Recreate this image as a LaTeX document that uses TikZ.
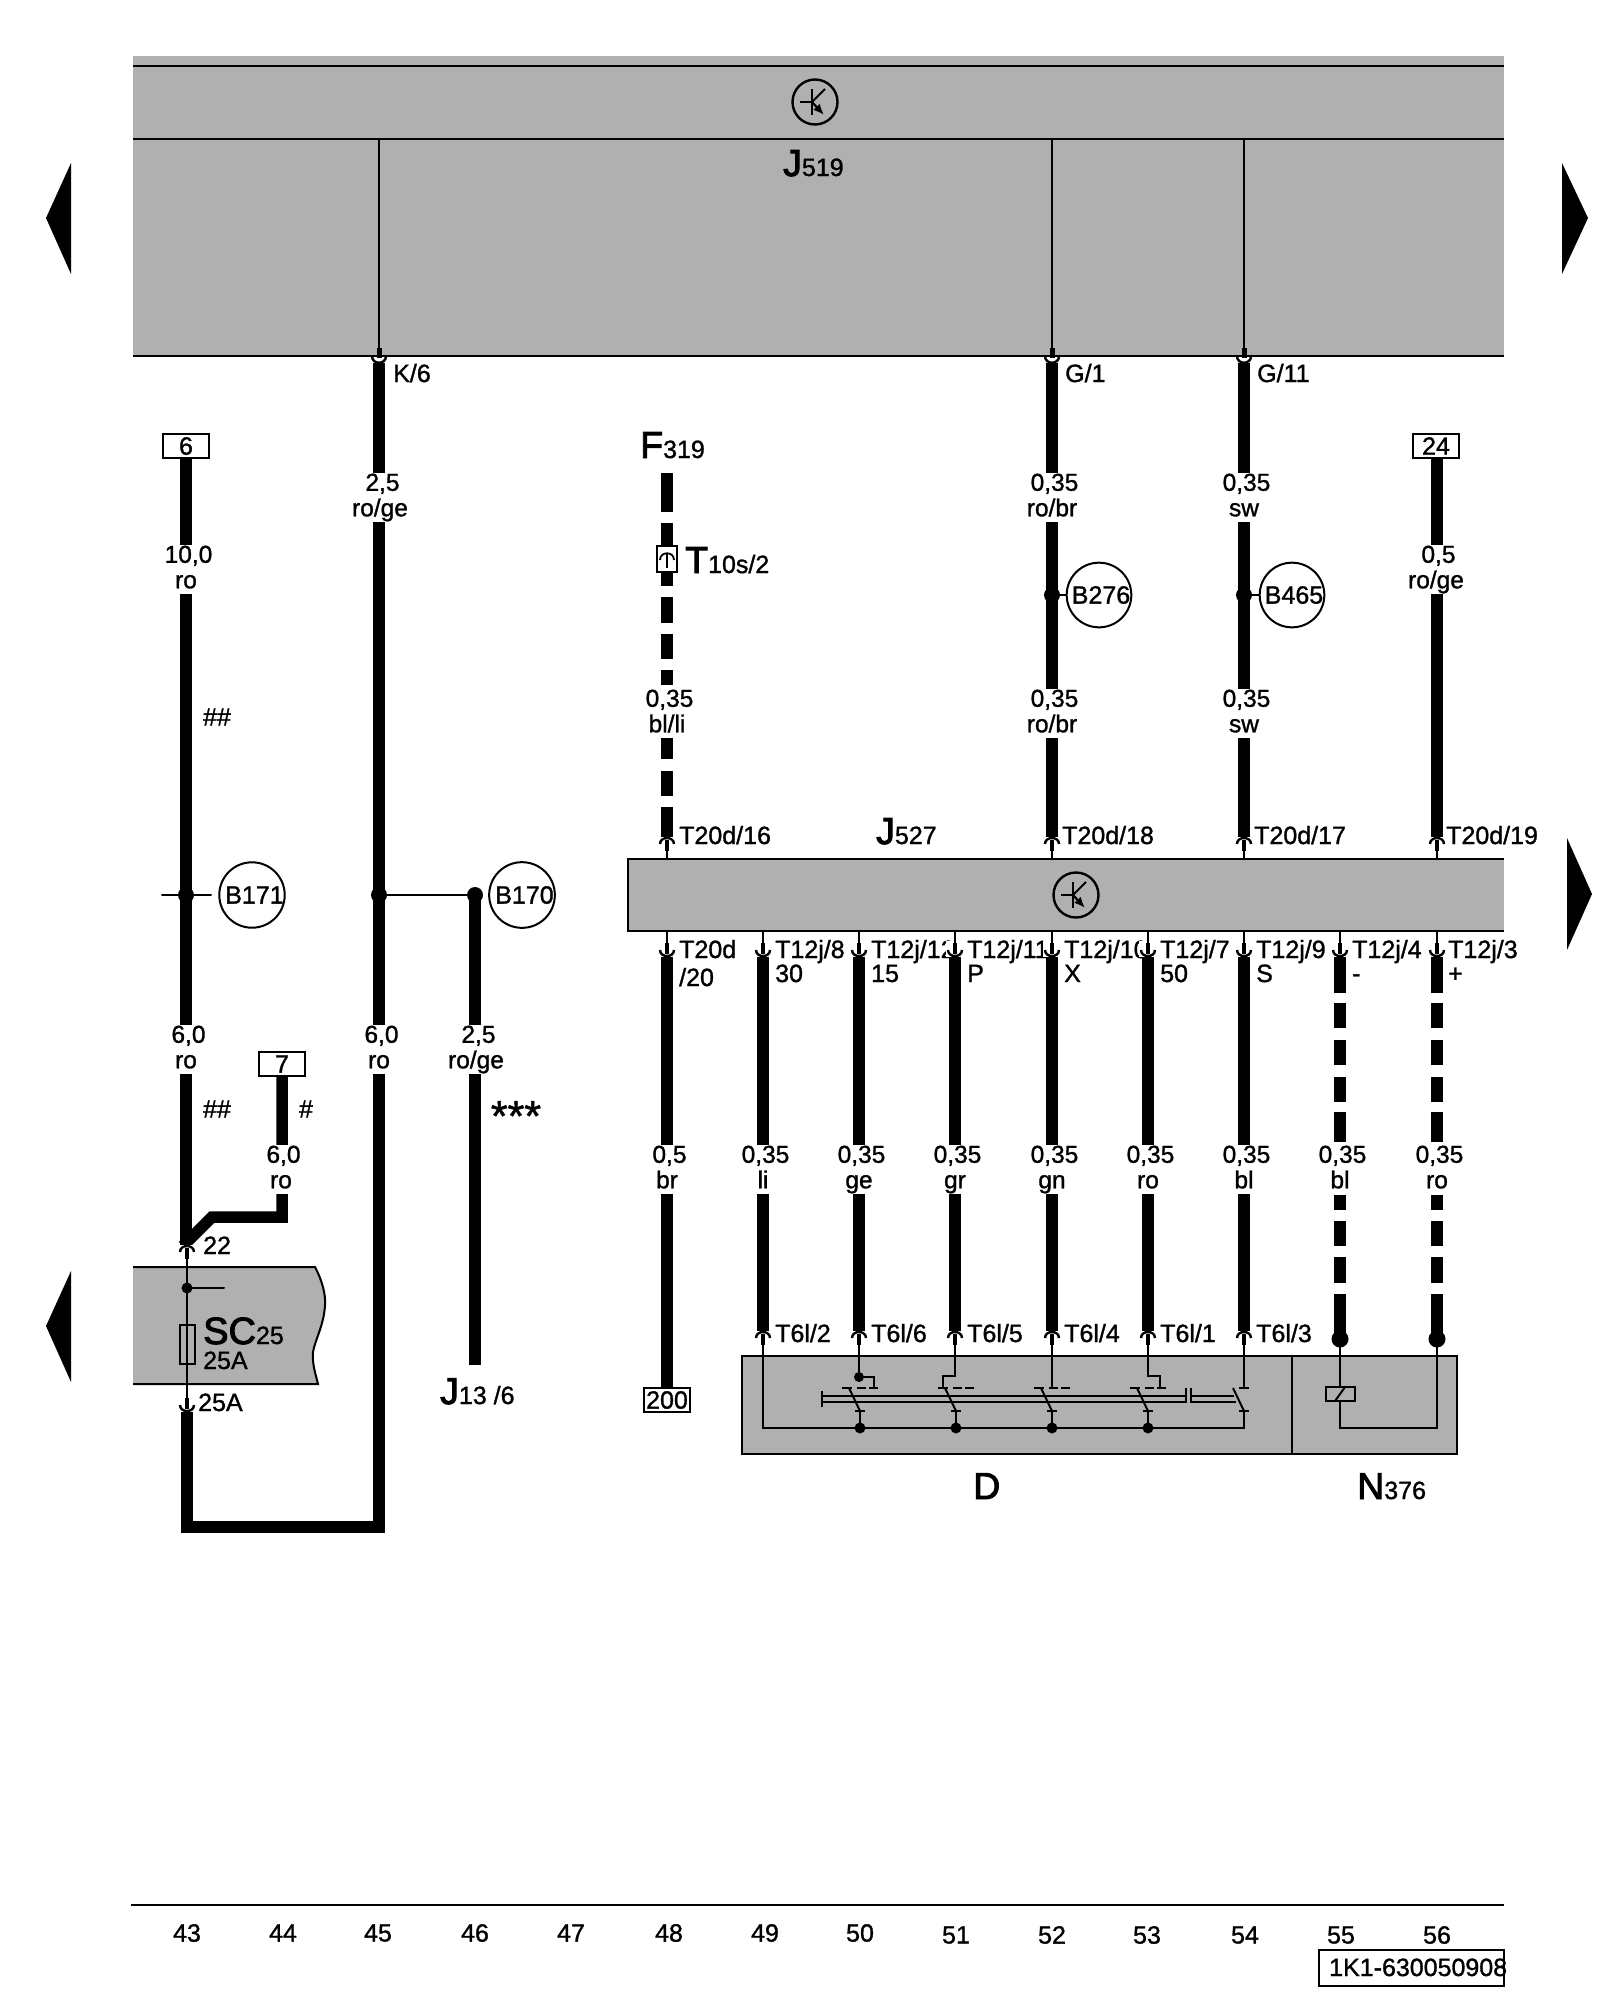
\documentclass[tikz,border=0pt]{standalone}
\usetikzlibrary{arrows.meta}
\usepackage{fontspec}
\setmainfont{Liberation Sans}[FakeBold=1.2]
\newfontfamily\bigfnt{Liberation Sans}[FakeBold=2.5]
\definecolor{boxgray}{HTML}{B0B0B0}
\newcommand\BL[2]{{\bigfnt\fontsize{37.5}{37}\selectfont #1}{\fontsize{25}{24}\selectfont #2}}
\tikzset{
 thin wire/.style={line width=2pt,line cap=round},
 wire/.style={line width=11.5pt,line cap=butt},
 txt/.style={anchor=base west,inner sep=0pt,font=\fontsize{25}{26}\selectfont},
 wl/.style={align=center,fill=white,inner xsep=1pt,inner ysep=1pt,font=\fontsize{24.5}{25.5}\selectfont},
 ref/.style={draw,line width=2pt,fill=white,minimum width=46pt,minimum height=24pt,inner sep=0pt,font=\fontsize{25}{25}\selectfont},
 circ/.style={circle,draw,line width=2pt,minimum size=61pt,inner sep=0pt,font=\fontsize{25}{25}\selectfont},
 panel/.style={fill=boxgray,draw=none},
 ln/.style={line width=2pt},
 dotn/.style={circle,fill=black,inner sep=0pt,minimum size=16pt},
 smalldot/.style={circle,fill=black,inner sep=0pt,minimum size=11pt},
}
\newcommand\pinD[2]{% wire from above, stem below
 \fill[white] (#1-9,#2-4) rectangle (#1+9,#2+9);
 \draw[line width=2.4pt] (#1-7,#2+3) .. controls (#1-7,#2-5) and (#1+7,#2-5) .. (#1+7,#2+3);
 \draw[line width=4.5pt] (#1,#2-1) -- (#1,#2+10);}
\newcommand\pinU[2]{% wire from below, stem above
 \fill[white] (#1-9,#2-12) rectangle (#1+9,#2+4);
 \draw[line width=2.4pt] (#1-7,#2-3) .. controls (#1-7,#2+5) and (#1+7,#2+5) .. (#1+7,#2-3);
 \draw[line width=4.5pt] (#1,#2+1) -- (#1,#2-10);
 \draw[thin wire] (#1,#2-22) -- (#1,#2);}
\newcommand\pinT[1]{% pin just under the J519 panel
 \fill[white] (#1-8,358) rectangle (#1+8,363);
 \draw[line width=2.4pt] (#1-7,356) .. controls (#1-7,365) and (#1+7,365) .. (#1+7,356);
 \draw[line width=5pt] (#1,348) -- (#1,358);}
\newcommand\trans[3]{%
 \node[circle,draw,line width=2.4pt,minimum size=45pt,inner sep=0pt] (#1) at (#2,#3) {};
 \draw[line width=2pt] (#2-15,#3) -- (#2-3,#3);
 \draw[line width=2pt] (#2-3,#3-13) -- (#2-3,#3+13);
 \draw[line width=2pt] (#2-3,#3) -- (#2+10,#3-13);
 \draw[line width=2.2pt,-{Latex[length=11pt,width=9pt]}] (#2-3,#3) -- (#2+9,#3+13);}
\newcommand\sw[1]{% switch contact column at wire x
 \draw[ln] (#1-18,1388) -- (#1-8,1388) (#1-3,1388) -- (#1+6,1388) (#1+9,1388) -- (#1+18,1388);
 \draw[ln] (#1-11,1388) -- (#1,1411);
 \draw[ln] (#1-5,1411) -- (#1+5,1411);
 \draw[ln] (#1,1411) -- (#1,1428);
 \node[smalldot] at (#1,1428) {};}
\newcommand\wirelab[5]{\node[wl] (#1) at (#2,#3+2.5) {\hspace{5pt}\vphantom{Tg}#4\\\vphantom{Tg}#5};}
\begin{document}
\begin{tikzpicture}[x=1pt,y=-1pt]
\useasboundingbox (0,0) rectangle (1600,2000);
\fill[white] (0,0) rectangle (1600,2000);
% page arrows
\fill (71,163) -- (71,274) -- (46,218) -- cycle;
\fill (1562,163) -- (1562,274) -- (1588,218) -- cycle;
\fill (1567,838) -- (1567,950) -- (1592,894) -- cycle;
\fill (71,1271) -- (71,1382) -- (46,1326) -- cycle;
% top control unit
\fill[panel] (133,56) rectangle (1504,356);
\draw[ln] (133,66) -- (1504,66) (133,139) -- (1504,139) (133,356) -- (1504,356);
\trans{tA}{815}{102}
\node[txt] (J519) at (783,176) {\BL{J}{519}};
\foreach \x in {379,1052,1244} \draw[thin wire] (\x,139) -- (\x,356);
\node[txt] (k6) at (393,382) {K/6};
\node[txt] (g1) at (1065,382) {G/1};
\node[txt] (g11) at (1257,382) {G/11};
% J527 panel
\fill[panel] (628,859) rectangle (1504,931);
\draw[ln] (1504,859) -- (628,859) -- (628,931) -- (1504,931);
\trans{tB}{1076}{895}
\node[txt] (J527) at (876,844) {\BL{J}{527}};
% SC panel
\fill[panel] (133,1267) -- (315,1267)
  .. controls (322,1280) and (326,1295) .. (325,1305)
  .. controls (324,1325) and (315,1340) .. (313,1352)
  .. controls (312,1365) and (316,1375) .. (318,1384) -- (133,1384) -- cycle;
\draw[ln] (133,1267) -- (315,1267)
  .. controls (322,1280) and (326,1295) .. (325,1305)
  .. controls (324,1325) and (315,1340) .. (313,1352)
  .. controls (312,1365) and (316,1375) .. (318,1384) -- (133,1384);
\draw[thin wire] (187,1247) -- (187,1405);
\node[smalldot] (scdot) at (187,1288) {};
\draw[thin wire] (scdot.center) -- (224,1288);
\node[draw,line width=2pt,minimum width=15pt,minimum height=39pt,inner sep=0pt] (fuse) at (187,1344) {};
\node[txt] (sc) at (203,1344) {{\bigfnt\fontsize{38}{38}\selectfont SC}{\fontsize{25}{25}\selectfont 25}};
\node[txt] (sca) at (203,1369) {25A};
\node[txt] (i22) at (203,1254) {22};
\node[txt] (o25) at (198,1411) {25A};
% device box D / N376
\fill[panel] (742,1356) rectangle (1457,1454);
\draw[ln] (742,1356) rectangle (1457,1454);
\draw[ln] (1292,1356) -- (1292,1454);
\foreach \x in {763,859,955,1052,1148,1244} \draw[thin wire] (\x,1340) -- (\x,1356);
\draw[thin wire] (763,1356) -- (763,1428) -- (1244,1428) -- (1244,1411);
\draw[thin wire] (859,1356) -- (859,1377);
\node[dotn,minimum size=10pt] (d6) at (859,1377) {};
\draw[ln] (d6.center) -- (874,1377) -- (874,1388);
\draw[ln] (955,1356) -- (955,1376) -- (943,1376) -- (943,1388);
\draw[ln] (1052,1356) -- (1052,1388);
\draw[ln] (1148,1356) -- (1148,1376) -- (1160,1376) -- (1160,1388);
\draw[ln] (1244,1356) -- (1244,1388);
\sw{860}\sw{956}\sw{1052}\sw{1148}
\draw[ln] (1239,1388) -- (1249,1388);
\draw[ln] (1233,1388) -- (1244,1411);
\draw[ln] (1239,1411) -- (1249,1411);
\draw[ln] (822,1391) -- (822,1407);
\draw[ln] (822,1396) -- (1186,1396) (822,1402) -- (1186,1402);
\draw[ln] (1186,1388) -- (1186,1403);
\draw[ln] (1191,1388) -- (1191,1403);
\draw[ln] (1191,1396) -- (1234,1396) (1191,1402) -- (1236,1402);
\draw[thin wire] (1340,1340) -- (1340,1428) -- (1437,1428) -- (1437,1340);
\node[draw,line width=2pt,fill=boxgray,minimum width=29pt,minimum height=14pt,inner sep=0pt] (relay) at (1340,1394) {};
\draw[ln] (1335,1401) -- (1345,1387);
\node[txt] (D) at (973,1499) {\BL{D}{}};
\node[txt] (N) at (1357,1499) {\BL{N}{376}};
% stems to J527 top
\foreach \x in {667,1052,1244,1437} \draw[thin wire] (\x,845) -- (\x,859);
% pin labels
\node[txt] at (679,844) {T20d/16};
\node[txt] at (1062,844) {T20d/18};
\node[txt] at (1254,844) {T20d/17};
\node[txt] at (1446,844) {T20d/19};
\node[txt] at (679,958) {T20d};
\node[txt] at (679,986) {/20};
\foreach \x/\a/\b in {763/8/30,859/12/15,955/11/P,1052/10/X,1148/7/50,1244/9/S,1340/4/-,1436/3/+}
 {\node[txt] at (\x+12,958) {T12j/\a};
  \node[txt] at (\x+12,982) {\b};}
\foreach \x/\a in {763/2,859/6,955/5,1052/4,1148/1,1244/3}
 \node[txt] at (\x+12,1342) {T6l/\a};
% coordinates for wire ends
\coordinate (a7) at (282,1076);
\coordinate (f1) at (475,895);
\coordinate (f2) at (475,1365);
% wires
\draw[wire] (186,458) -- (186,1245);
\draw[wire,line join=miter] (a7) -- (282,1217) -- (212,1217) -- (183,1246);
\draw[wire,line join=miter] (187,1406) -- (187,1527) -- (379,1527) -- (379,360);
\draw[wire] (f1) -- (f2);
\foreach \x in {1052,1244} \draw[wire] (\x,360) -- (\x,837);
\draw[wire] (1437,458) -- (1437,837);
\foreach \a/\b in {473/512,523/586,597/623,634/659,670/685,738/759,771/796,807/837}
  \draw[wire] (667,\a) -- (667,\b);
\draw[wire] (667,956) -- (667,1390);
\foreach \x in {763,859,955,1052,1148,1244} \draw[wire] (\x,956) -- (\x,1332);
\foreach \x in {1340,1437} {
 \foreach \a/\b in {956/993,1003/1028,1040/1065,1077/1102,1112/1142,1195/1210,1221/1246,1257/1283,1294/1335}
  \draw[wire] (\x,\a) -- (\x,\b);
 \node[dotn,minimum size=17pt] at (\x,1339) {};
}
\node[ref] (r6) at (186,446) {6};
\node[ref] (r24) at (1436,446) {24};
\node[ref] (r7) at (282,1064) {7};
\node[ref] (r200) at (667,1400) {200};
% pins
\pinD{187}{1249}
\pinU{187}{1408}
\pinT{379}
\pinT{1052}
\pinT{1244}
\foreach \x in {667,1052,1244,1437} {\pinD{\x}{841}}
\foreach \x in {667,763,859,955,1052,1148,1244,1340,1437} {\pinU{\x}{953}}
\foreach \x in {763,859,955,1052,1148,1244} {\pinD{\x}{1335}}
% T10s/2 connector
\node[draw,line width=2pt,fill=white,minimum width=20pt,minimum height=26pt,inner sep=0pt] (t10) at (667,559) {};
\draw[line width=1.8pt] (660,560) .. controls (660,551) and (674,551) .. (674,560);
\draw[line width=2pt] (667,553) -- (667,568);
\node[txt] (t10l) at (685,573) {\BL{T}{10s/2}};
\node[txt] (F319) at (640,458) {\BL{F}{319}};
% junctions
\node[circ] (B171) at (252,895) {\hspace{5pt}B171};
\node[circ] (B170) at (522,895) {\hspace{5pt}B170};
\node[circ] (B276) at (1099,595) {\hspace{4pt}B276};
\node[circ] (B465) at (1292,595) {\hspace{4pt}B465};
\node[dotn] (j171) at (186,895) {};
\node[dotn] (j45) at (379,895) {};
\node[dotn] (j170) at (475,895) {};
\node[dotn] (j276) at (1052,595) {};
\node[dotn] (j465) at (1244,595) {};
\draw[thin wire] (162,895) -- (211,895);
\draw[thin wire] (j45) -- (j170);
\draw[thin wire] (j276) -- (B276);
\draw[thin wire] (j465) -- (B465);
% wire labels
\wirelab{l1}{186}{567}{10,0}{ro}
\wirelab{l2}{186}{1047}{6,0}{ro}
\wirelab{l3}{281}{1167}{6,0}{ro}
\wirelab{l4}{380}{495}{2,5}{ro/ge}
\wirelab{l5}{379}{1047}{6,0}{ro}
\wirelab{l6}{476}{1047}{2,5}{ro/ge}
\wirelab{l7}{667}{711}{0,35}{bl/li}
\wirelab{l8}{1052}{495}{0,35}{ro/br}
\wirelab{l9}{1052}{711}{0,35}{ro/br}
\wirelab{l10}{1244}{495}{0,35}{sw}
\wirelab{l11}{1244}{711}{0,35}{sw}
\wirelab{l12}{1436}{567}{0,5}{ro/ge}
\wirelab{l13}{667}{1167}{0,5}{br}
\wirelab{l14}{763}{1167}{0,35}{li}
\wirelab{l15}{859}{1167}{0,35}{ge}
\wirelab{l16}{955}{1167}{0,35}{gr}
\wirelab{l17}{1052}{1167}{0,35}{gn}
\wirelab{l18}{1148}{1167}{0,35}{ro}
\wirelab{l19}{1244}{1167}{0,35}{bl}
\wirelab{l20}{1340}{1167}{0,35}{bl}
\wirelab{l21}{1437}{1167}{0,35}{ro}
% marks
\node[txt,anchor=center] at (217,717) {\#\#};
\node[txt,anchor=center] at (217,1109) {\#\#};
\node[txt,anchor=center] at (306,1109) {\#};
\node[txt,anchor=center,font=\fontsize{43}{43}\selectfont] at (516,1116) {***};
\node[txt] (J13) at (440,1404) {\BL{J}{13 /6}};
% footer
\draw[line width=2.4pt] (131,1905) -- (1504,1905);
\foreach \x/\n in {187/43,283/44,378/45,475/46,571/47,669/48,765/49,860/50}
 \node[txt,anchor=center] at (\x,1933) {\n};
\foreach \x/\n in {956/51,1052/52,1147/53,1245/54,1341/55,1437/56}
 \node[txt,anchor=center] at (\x,1935) {\n};
\node[txt] (code) at (1329,1976) {1K1-630050908};
\draw[ln] (1319,1950) rectangle (1504,1986);
\end{tikzpicture}
\end{document}
